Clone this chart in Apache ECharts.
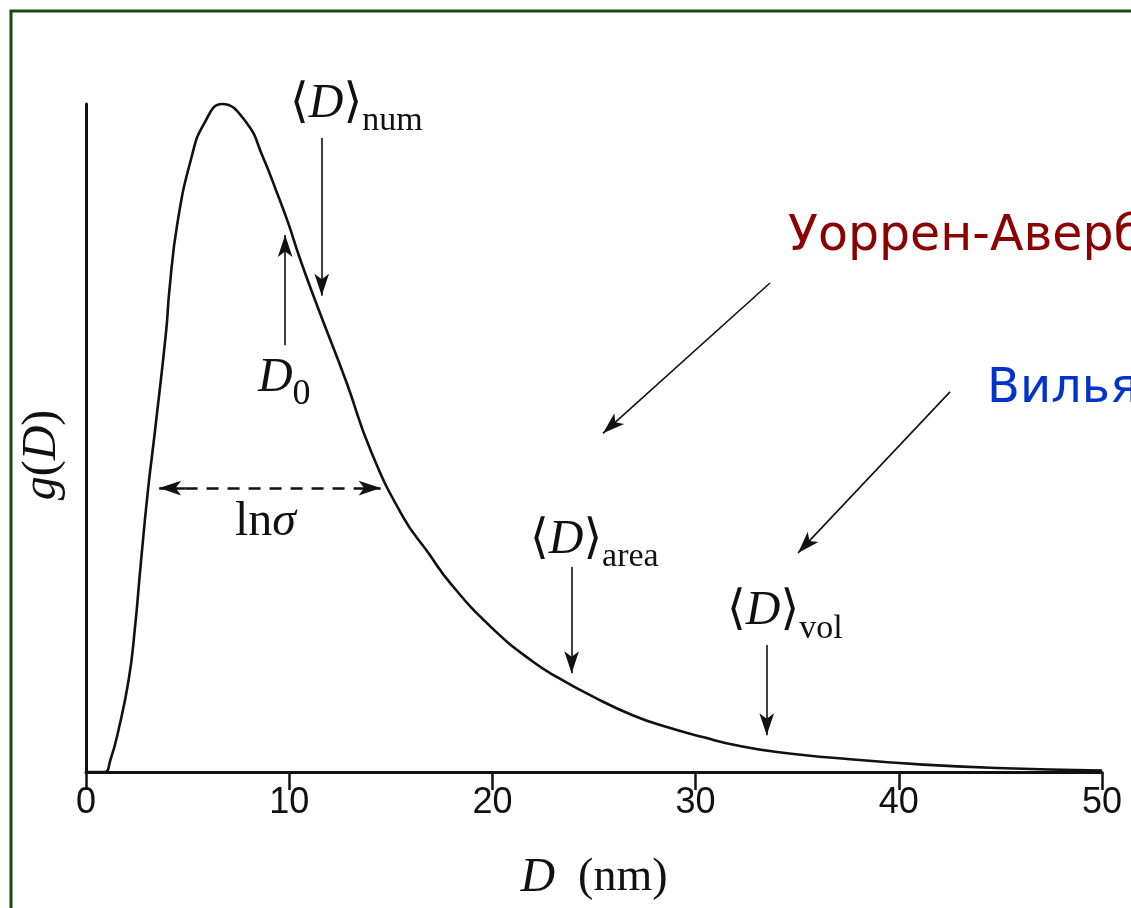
<!DOCTYPE html>
<html>
<head>
<meta charset="utf-8">
<script src="https://cdn.jsdelivr.net/npm/echarts@6/dist/echarts.min.js"></script>
<style>
  html, body { margin: 0; padding: 0; background: #ffffff; }
  #chart { width: 1131px; height: 908px; }
</style>
</head>
<body>
<div id="chart"></div>
<script>
// Particle diameter D (nm)
const diameters = [0, 0.9, 1.2, 1.6, 2.1, 2.4, 2.7, 3.05, 3.4, 3.95, 4.1, 4.5, 5.2, 5.8, 6.7,
  7.9, 8.7, 9.35, 9.95, 10.5, 11.4, 12.8, 14.0, 15.6, 16.8, 18, 20, 22, 23.3, 25, 26.9,
  28.5, 30.4, 32, 34, 37.6, 41.2, 44.8, 50];
// Size distribution g(D), arbitrary units (maximum = 1)
const density = [0, 0, 0.018, 0.063, 0.138, 0.213, 0.313, 0.422, 0.512, 0.662, 0.72, 0.822, 0.921, 0.97, 1.0,
  0.972, 0.921, 0.871, 0.822, 0.771, 0.696, 0.585, 0.482, 0.382, 0.33, 0.28, 0.215, 0.165, 0.14, 0.112, 0.085,
  0.068, 0.052, 0.04, 0.03, 0.019, 0.011, 0.006, 0.002];
// x-axis tick labels
const xTickLabels = ['0', '10', '20', '30', '40', '50'];

// Characteristic diameters marked with arrows
const d0 = 9.8;        // median D0
const dNum = 11.6;     // number-weighted mean
const dArea = 23.9;    // area-weighted mean
const dVol = 33.5;     // volume-weighted mean
const lnSigmaSpan = [3.6, 14.5];

const SERIF = '"Liberation Serif", "DejaVu Serif", serif';
const SANS = '"DejaVu Sans", Verdana, sans-serif';

const curve = diameters.map((d, i) => [d, density[i]]);

const labelRich = {
  br: { fontFamily: SERIF, fontSize: 48, color: '#111' },
  it: { fontFamily: SERIF, fontSize: 48, fontStyle: 'italic', color: '#111' },
  sub: { fontFamily: SERIF, fontSize: 34, color: '#111', padding: [34, 0, 0, 0] },
  sub0: { fontFamily: SERIF, fontSize: 36, color: '#111', padding: [34, 0, 0, 0] },
  ru1: { fontFamily: SANS, fontSize: 49, color: '#8b0000' },
  ru2: { fontFamily: SANS, fontSize: 48, color: '#0033cc' }
};

function textPoint(coord, text) {
  return {
    coord: coord,
    symbol: 'circle',
    symbolSize: 0,
    label: {
      show: true,
      position: 'right',
      distance: 0,
      formatter: text,
      rich: labelRich
    }
  };
}

function arrow(from, to, dashed, both) {
  return [
    { coord: from, symbol: both ? 'arrow' : 'none', symbolSize: [11, 22] },
    {
      coord: to, symbol: 'arrow', symbolSize: [11, 22],
      lineStyle: { type: dashed ? [12, 9] : 'solid', width: dashed ? 2.5 : 1.6, color: '#111' }
    }
  ];
}

const chart = echarts.init(document.getElementById('chart'), null, { renderer: 'canvas' });

chart.setOption({
  animation: false,
  backgroundColor: '#ffffff',
  grid: { left: 86, right: 29, top: 104, bottom: 136, containLabel: false },
  xAxis: {
    type: 'value',
    min: 0,
    max: 50,
    interval: 10,
    axisLine: { show: true, onZero: false, lineStyle: { color: '#111', width: 3 } },
    axisTick: { show: true, length: 18, lineStyle: { color: '#111', width: 2.5 } },
    axisLabel: {
      margin: 13,
      fontFamily: '"Liberation Sans Narrow", "Liberation Sans", Arial, sans-serif',
      fontSize: 36,
      color: '#111',
      formatter: (v) => xTickLabels[Math.round(v / 10)]
    },
    splitLine: { show: false },
    name: '{it|D}{n|  (nm)}',
    nameLocation: 'middle',
    nameGap: 82,
    nameTextStyle: {
      rich: {
        it: { fontFamily: SERIF, fontSize: 48, fontStyle: 'italic', color: '#111' },
        n: { fontFamily: SERIF, fontSize: 46, color: '#111' }
      }
    }
  },
  yAxis: {
    type: 'value',
    min: 0,
    max: 1,
    axisLine: { show: true, onZero: false, lineStyle: { color: '#111', width: 3 } },
    axisTick: { show: false },
    axisLabel: { show: false },
    splitLine: { show: false },
    name: '{it|g}{n|(}{it|D}{n|)}',
    nameLocation: 'middle',
    nameRotate: 90,
    nameGap: 20,
    nameTextStyle: {
      padding: [0, 34, 0, 0],
      rich: {
        it: { fontFamily: SERIF, fontSize: 48, fontStyle: 'italic', color: '#111' },
        n: { fontFamily: SERIF, fontSize: 48, color: '#111' }
      }
    }
  },
  graphic: [
    {
      type: 'rect',
      shape: { x: 11, y: 11, width: 1400, height: 1200 },
      style: { fill: 'none', stroke: '#1d4712', lineWidth: 3 },
      silent: true,
      z: 100
    }
  ],
  series: [
    {
      type: 'line',
      data: curve,
      smooth: 0.5,
      showSymbol: false,
      clip: false,
      lineStyle: { color: '#111', width: 2.6 },
      markLine: {
        silent: true,
        animation: false,
        label: { show: false },
        lineStyle: { color: '#111', width: 1.6, type: 'solid' },
        data: [
          arrow([d0, 0.639], [d0, 0.804]),
          arrow([dNum, 0.949], [dNum, 0.713]),
          arrow([lnSigmaSpan[0] + 1.3, 0.425], [lnSigmaSpan[0], 0.425], true, false),
          arrow([lnSigmaSpan[0] + 1.3, 0.425], [lnSigmaSpan[1], 0.425], true, false),
          arrow([dArea, 0.307], [dArea, 0.148]),
          arrow([dVol, 0.19], [dVol, 0.055]),
          arrow([33.66, 0.732], [25.44, 0.507]),
          arrow([42.52, 0.569], [35.04, 0.328])
        ]
      },
      markPoint: {
        silent: true,
        animation: false,
        data: [
          textPoint([10.04, 1.0], '{br|⟨}{it|D}{br|⟩}{sub|num}'),
          textPoint([8.46, 0.59], '{it|D}{sub0|0}'),
          textPoint([7.33, 0.373], '{br|ln}{it|σ}'),
          textPoint([21.85, 0.347], '{br|⟨}{it|D}{br|⟩}{sub|area}'),
          textPoint([31.55, 0.24], '{br|⟨}{it|D}{br|⟩}{sub|vol}'),
          textPoint([34.55, 0.8], '{ru1|Уоррен-Авербах}'),
          textPoint([44.34, 0.572], '{ru2|Вильямсон-Холл}')
        ]
      }
    }
  ]
});
</script>
</body>
</html>
